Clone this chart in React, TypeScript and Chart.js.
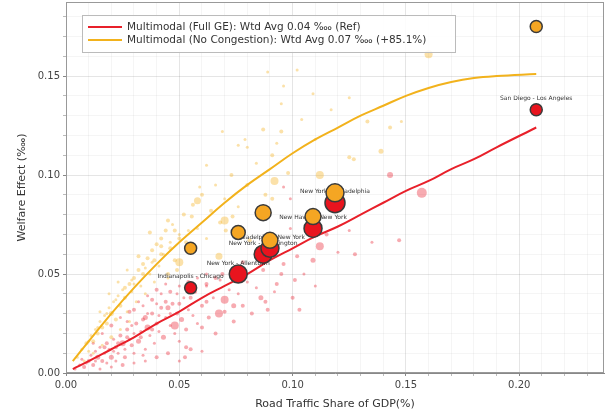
import React, { useEffect, useRef } from 'react';
import { Chart, registerables } from 'chart.js';
Chart.register(...registerables);

// Highlighted city pairs
const pairLabels = [
  'Indianapolis - Chicago',
  'New York - Allentown',
  'New York - Washington',
  'Philadelphia - New York',
  'New Haven - New York',
  'New York - Philadelphia',
  'San Diego - Los Angeles',
];
const pairShare = [0.055, 0.076, 0.087, 0.090, 0.109, 0.1187, 0.2075];
const pairFullGE = [0.043, 0.050, 0.060, 0.063, 0.073, 0.086, 0.133];
const pairNoCong = [0.063, 0.071, 0.081, 0.067, 0.079, 0.091, 0.175];
const pairWeightRed = [6, 9, 9, 9, 9, 10, 6];
const pairWeightYellow = [6, 7, 8, 8, 8, 9, 6];

// Fitted curves
const fitX = [0.003, 0.01, 0.02, 0.03, 0.04, 0.05, 0.06, 0.07, 0.08, 0.09, 0.10, 0.11, 0.12, 0.13, 0.14, 0.15, 0.16, 0.17, 0.18, 0.19, 0.2075];
const fitFullGE = [0.002, 0.006, 0.012, 0.018, 0.025, 0.031, 0.038, 0.044, 0.050, 0.057, 0.063, 0.069, 0.074, 0.080, 0.086, 0.092, 0.097, 0.103, 0.108, 0.114, 0.124];
const fitNoCong = [0.006, 0.016, 0.030, 0.043, 0.055, 0.066, 0.076, 0.086, 0.095, 0.103, 0.111, 0.118, 0.124, 0.130, 0.135, 0.140, 0.144, 0.147, 0.149, 0.150, 0.151];

// Background (all pairs): [share, effect, weight]
const bgFullGE: number[][] = [
  [0.004,0.002,1.5],[0.006,0.004,1.5],[0.008,0.003,2],[0.007,0.007,1.5],[0.010,0.006,2],[0.011,0.009,1.5],[0.012,0.004,2],[0.013,0.011,1.5],[0.014,0.008,2.5],[0.015,0.013,1.5],[0.016,0.006,2],[0.017,0.010,1.5],[0.018,0.015,2],[0.019,0.012,1.5],[0.020,0.008,2.5],[0.021,0.017,1.5],[0.022,0.013,2],[0.023,0.010,1.5],[0.024,0.019,2],[0.025,0.015,3],[0.026,0.012,1.5],[0.027,0.022,2],[0.028,0.017,1.5],[0.029,0.014,2],[0.030,0.020,1.5],[0.031,0.025,2],[0.032,0.016,2.5],[0.033,0.021,1.5],[0.034,0.027,2],[0.035,0.012,1.5],[0.036,0.023,3],[0.037,0.019,1.5],[0.038,0.030,2],[0.039,0.015,1.5],[0.040,0.025,2],[0.041,0.021,1.5],[0.042,0.033,2],[0.043,0.018,2.5],[0.044,0.028,1.5],[0.045,0.010,2],[0.046,0.024,1.5],[0.047,0.035,2],[0.048,0.020,1.5],[0.049,0.030,2],[0.050,0.016,1.5],[0.051,0.027,2.5],[0.052,0.038,1.5],[0.053,0.022,2],[0.054,0.032,1.5],[0.055,0.012,2],[0.056,0.029,1.5],[0.057,0.041,2],[0.058,0.025,1.5],[0.060,0.034,2],[0.062,0.044,1.5],[0.063,0.028,2],[0.065,0.038,1.5],[0.066,0.020,2],[0.068,0.047,1.5],[0.070,0.031,2],[0.072,0.042,1.5],[0.074,0.026,2],[0.076,0.040,1.5],[0.078,0.034,2],[0.080,0.046,1.5],[0.082,0.030,2],[0.084,0.043,1.5],[0.088,0.036,2],[0.092,0.041,1.5],[0.096,0.055,2],[0.105,0.050,1.5],[0.110,0.044,1.5],[0.115,0.070,2],[0.120,0.061,1.5],[0.125,0.072,1.5],[0.135,0.066,1.5],
  [0.015,0.002,1.5],[0.020,0.003,1.5],[0.025,0.004,2],[0.030,0.005,1.5],[0.035,0.006,1.5],[0.040,0.008,2],[0.050,0.006,1.5],[0.060,0.011,1.5],
  [0.012,0.015,1.5],[0.016,0.020,1.5],[0.020,0.024,2],[0.024,0.028,1.5],[0.028,0.031,2],[0.032,0.036,1.5],[0.036,0.039,1.5],[0.040,0.042,2],[0.044,0.045,1.5],[0.018,0.005,1.5],[0.022,0.006,1.5],[0.026,0.008,2],[0.030,0.010,1.5],[0.034,0.009,1.5],
  [0.009,0.005,1.5],[0.013,0.006,1.5],[0.017,0.013,2],[0.021,0.011,1.5],[0.023,0.015,2],[0.027,0.018,2],[0.029,0.024,1.5],[0.033,0.018,2],[0.036,0.030,1.5],[0.038,0.022,2],[0.041,0.029,1.5],[0.044,0.036,2],[0.046,0.030,1.5],[0.049,0.040,1.5],
  [0.030,0.032,2],[0.034,0.034,1.5],[0.038,0.037,2],[0.042,0.040,1.5],[0.046,0.041,2],[0.050,0.044,1.5],[0.054,0.046,2],[0.058,0.048,1.5],[0.045,0.033,2.5],[0.050,0.035,2],[0.055,0.038,2],[0.040,0.035,1.5],[0.035,0.028,2.5],[0.027,0.026,1.5],[0.062,0.050,1.5],[0.066,0.048,2],
  [0.157,0.091,5],[0.143,0.100,3],[0.147,0.067,2],[0.112,0.064,4],[0.109,0.057,2.5],[0.102,0.059,2],[0.101,0.047,2],[0.1275,0.060,2],[0.103,0.032,2],[0.100,0.038,2],[0.093,0.045,2],[0.089,0.032,2],[0.086,0.038,2.5],[0.074,0.034,2.5],[0.070,0.037,4],[0.0675,0.030,4],[0.062,0.036,2],[0.060,0.023,2],[0.048,0.024,4],[0.0525,0.008,2],[0.053,0.013,2],[0.087,0.052,2],[0.095,0.050,2],[0.078,0.056,2],[0.069,0.050,2],[0.062,0.045,2],[0.096,0.094,1.5],[0.099,0.088,1.5],[0.099,0.073,1.5],
];
const bgNoCong: number[][] = [
  [0.005,0.008,1.5],[0.007,0.012,1.5],[0.009,0.015,2],[0.010,0.011,1.5],[0.011,0.019,1.5],[0.012,0.016,2],[0.013,0.022,1.5],[0.014,0.020,2],[0.015,0.026,1.5],[0.016,0.023,2],[0.017,0.029,1.5],[0.018,0.025,2],[0.019,0.033,1.5],[0.020,0.030,2.5],[0.021,0.036,1.5],[0.022,0.027,2],[0.023,0.039,1.5],[0.024,0.034,2],[0.025,0.042,1.5],[0.026,0.038,2],[0.027,0.031,1.5],[0.028,0.045,2],[0.029,0.041,1.5],[0.030,0.048,2],[0.031,0.036,1.5],[0.032,0.052,2],[0.033,0.044,1.5],[0.034,0.055,2],[0.035,0.040,1.5],[0.036,0.058,2],[0.037,0.050,1.5],[0.038,0.062,2],[0.039,0.046,1.5],[0.040,0.065,2],[0.041,0.054,1.5],[0.042,0.068,2],[0.043,0.060,1.5],[0.044,0.072,2],[0.045,0.048,1.5],[0.046,0.063,2],[0.047,0.075,1.5],[0.048,0.057,2],[0.050,0.070,1.5],[0.052,0.080,2],[0.054,0.062,1.5],[0.056,0.085,2],[0.058,0.073,1.5],[0.060,0.090,2],[0.062,0.068,1.5],[0.064,0.082,2],[0.066,0.095,1.5],[0.068,0.076,2],[0.070,0.088,1.5],[0.073,0.100,2],[0.076,0.084,1.5],[0.080,0.095,2],[0.084,0.106,1.5],[0.088,0.090,2],[0.093,0.116,1.5],[0.098,0.101,2],[0.104,0.128,1.5],[0.110,0.118,1.5],[0.117,0.133,1.5],
  [0.008,0.006,1.5],[0.012,0.010,1.5],[0.016,0.014,1.5],[0.020,0.018,2],[0.024,0.022,1.5],[0.028,0.026,1.5],[0.015,0.031,1.5],[0.019,0.040,1.5],[0.023,0.046,1.5],[0.027,0.052,1.5],
  [0.010,0.016,1.5],[0.014,0.023,1.5],[0.018,0.030,1.5],[0.022,0.037,1.5],[0.026,0.043,2],[0.030,0.045,1.5],[0.034,0.050,2],[0.038,0.056,1.5],[0.042,0.060,2],[0.046,0.066,1.5],[0.050,0.068,2],[0.054,0.072,1.5],[0.035,0.053,1.5],[0.029,0.047,1.5],
  [0.160,0.161,4],[0.133,0.127,2],[0.143,0.124,2],[0.148,0.127,1.5],[0.139,0.112,2.5],[0.125,0.109,2],[0.125,0.139,1.5],[0.112,0.100,4],[0.127,0.108,2],[0.109,0.141,1.5],[0.102,0.153,1.5],[0.096,0.145,1.5],[0.095,0.136,1.5],[0.089,0.152,1.5],[0.087,0.123,2],[0.095,0.122,2],[0.091,0.110,2],[0.092,0.097,4],[0.091,0.088,2],[0.079,0.118,1.5],[0.076,0.115,1.5],[0.069,0.122,1.5],[0.080,0.114,1.5],[0.070,0.077,4],[0.0675,0.059,3.5],[0.0705,0.072,2],[0.059,0.094,1.5],[0.058,0.087,3.5],[0.062,0.105,1.5],[0.050,0.056,4],[0.049,0.052,2],[0.045,0.050,2],[0.048,0.072,2],[0.045,0.077,2],[0.042,0.064,2],[0.039,0.057,2],[0.032,0.059,2],[0.037,0.071,2],[0.053,0.066,2],[0.0555,0.079,2],[0.0735,0.079,2],[0.081,0.067,2],
];

const legendItems = [
  { text: 'Multimodal (Full GE): Wtd Avg 0.04 \u2031 (Ref)', color: '#e8202a' },
  { text: 'Multimodal (No Congestion): Wtd Avg 0.07 \u2031 (+85.1%)', color: '#f2b21c' },
];

const FONT = '"DejaVu Sans", sans-serif';
const isMajor = (v: number) => Math.abs(v / 0.05 - Math.round(v / 0.05)) < 1e-6;

export default function App() {
  const ref = useRef<HTMLCanvasElement>(null);
  useEffect(() => {
    document.body.style.margin = '0';
    const labelPlugin = {
      id: 'pairLabels',
      afterDatasetDraw(chart: any, args: any) {
        if (args.index !== 2) return;
        const ctx = chart.ctx;
        const xs = chart.scales.x, ys = chart.scales.y;
        ctx.save();
        ctx.font = `6px ${FONT}`;
        ctx.fillStyle = '#333';
        ctx.textAlign = 'center';
        ctx.textBaseline = 'middle';
        pairLabels.forEach((t, i) => {
          ctx.fillText(t, xs.getPixelForValue(pairShare[i]), ys.getPixelForValue(pairFullGE[i]) - 11);
        });
        ctx.restore();
      },
    };
    const framePlugin = {
      id: 'frameLegend',
      afterDraw(chart: any) {
        const ctx = chart.ctx;
        const a = chart.chartArea;
        ctx.save();
        ctx.strokeStyle = '#999';
        ctx.lineWidth = 1;
        ctx.strokeRect(a.left + 0.5, a.top + 0.5, a.right - a.left - 1, a.bottom - a.top - 1);
        // legend
        const lx = 82, ly = 15, lw = 373, lh = 37;
        ctx.fillStyle = 'rgba(255,255,255,0.85)';
        ctx.fillRect(lx, ly, lw, lh);
        ctx.strokeStyle = '#bbb';
        ctx.strokeRect(lx + 0.5, ly + 0.5, lw, lh);
        ctx.font = `10.5px ${FONT}`;
        ctx.textBaseline = 'middle';
        legendItems.forEach((it, i) => {
          const y = ly + 12 + i * 13;
          ctx.strokeStyle = it.color;
          ctx.lineWidth = 2;
          ctx.beginPath();
          ctx.moveTo(lx + 6, y);
          ctx.lineTo(lx + 40, y);
          ctx.stroke();
          ctx.fillStyle = '#333';
          ctx.fillText(it.text, lx + 45, y);
        });
        ctx.restore();
      },
    };
    const chart = new Chart(ref.current!, {
      type: 'scatter',
      data: {
        datasets: [
          {
            data: pairShare.map((x, i) => ({ x, y: pairNoCong[i] })),
            backgroundColor: '#f5a623',
            borderColor: '#3a3a3a',
            borderWidth: 1.5,
            pointRadius: pairWeightYellow,
          },
          {
            data: pairShare.map((x, i) => ({ x, y: pairFullGE[i] })),
            backgroundColor: '#e8141e',
            borderColor: '#3a3a3a',
            borderWidth: 1.5,
            pointRadius: pairWeightRed,
          },
          {
            type: 'line',
            data: fitX.map((x, i) => ({ x, y: fitNoCong[i] })),
            borderColor: '#f2b21c',
            borderWidth: 2,
            pointRadius: 0,
            showLine: true,
            tension: 0.4,
          } as any,
          {
            type: 'line',
            data: fitX.map((x, i) => ({ x, y: fitFullGE[i] })),
            borderColor: '#e8202a',
            borderWidth: 2,
            pointRadius: 0,
            showLine: true,
            tension: 0.4,
          } as any,
          {
            data: bgNoCong.map((p) => ({ x: p[0], y: p[1] })),
            backgroundColor: 'rgba(245,180,40,0.4)',
            borderColor: 'rgba(245,180,40,0.4)',
            borderWidth: 0,
            pointRadius: bgNoCong.map((p) => p[2]),
          },
          {
            data: bgFullGE.map((p) => ({ x: p[0], y: p[1] })),
            backgroundColor: 'rgba(235,45,60,0.4)',
            borderColor: 'rgba(235,45,60,0.4)',
            borderWidth: 0,
            pointRadius: bgFullGE.map((p) => p[2]),
          },
        ],
      },
      options: {
        animation: false,
        responsive: false,
        layout: { autoPadding: false, padding: { top: 2, right: 1, left: 0, bottom: 0 } },
        plugins: { legend: { display: false }, tooltip: { enabled: false } },
        scales: {
          x: {
            type: 'linear',
            min: 0,
            max: 0.2374,
            afterFit: (s: any) => { s.height = 42; s.paddingLeft = 0; s.paddingRight = 0; },
            afterBuildTicks: (s: any) => {
              const t = [];
              for (let i = 0; i <= 23; i++) t.push({ value: i / 100 });
              s.ticks = t;
            },
            ticks: {
              autoSkip: false,
              maxRotation: 0,
              padding: 3,
              color: '#444',
              font: { family: FONT, size: 10 },
              callback: (v: any) => (isMajor(Number(v)) ? Number(v).toFixed(2) : ''),
            },
            grid: {
              color: (c: any) => (isMajor(c.tick.value) ? 'rgba(0,0,0,0.1)' : 'rgba(0,0,0,0.04)'),
              tickColor: (c: any) => (isMajor(c.tick.value) ? '#888' : '#bbb'),
              tickLength: 3,
            },
            border: { color: '#888' },
            title: {
              display: true,
              text: 'Road Traffic Share of GDP(%)',
              color: '#333',
              font: { family: FONT, size: 11 },
              padding: { top: 4, bottom: 4 },
            },
          },
          y: {
            type: 'linear',
            min: 0,
            max: 0.1874,
            afterFit: (s: any) => { s.width = 66; s.paddingTop = 0; s.paddingBottom = 0; },
            afterBuildTicks: (s: any) => {
              const t = [];
              for (let i = 0; i <= 18; i++) t.push({ value: i / 100 });
              s.ticks = t;
            },
            ticks: {
              autoSkip: false,
              padding: 3,
              color: '#444',
              font: { family: FONT, size: 10 },
              callback: (v: any) => (isMajor(Number(v)) ? Number(v).toFixed(2) : ''),
            },
            grid: {
              color: (c: any) => (isMajor(c.tick.value) ? 'rgba(0,0,0,0.1)' : 'rgba(0,0,0,0.04)'),
              tickColor: (c: any) => (isMajor(c.tick.value) ? '#888' : '#bbb'),
              tickLength: 3,
            },
            border: { color: '#888' },
            title: {
              display: true,
              text: 'Welfare Effect (\u2031)',
              color: '#333',
              font: { family: FONT, size: 11 },
              padding: { top: 16, bottom: 2 },
            },
          },
        },
      },
      plugins: [labelPlugin, framePlugin],
    } as any);
    return () => chart.destroy();
  }, []);
  return (
    <div style={{ width: 605, height: 415 }}>
      <canvas ref={ref} width={605} height={415} style={{ display: 'block' }} />
    </div>
  );
}
